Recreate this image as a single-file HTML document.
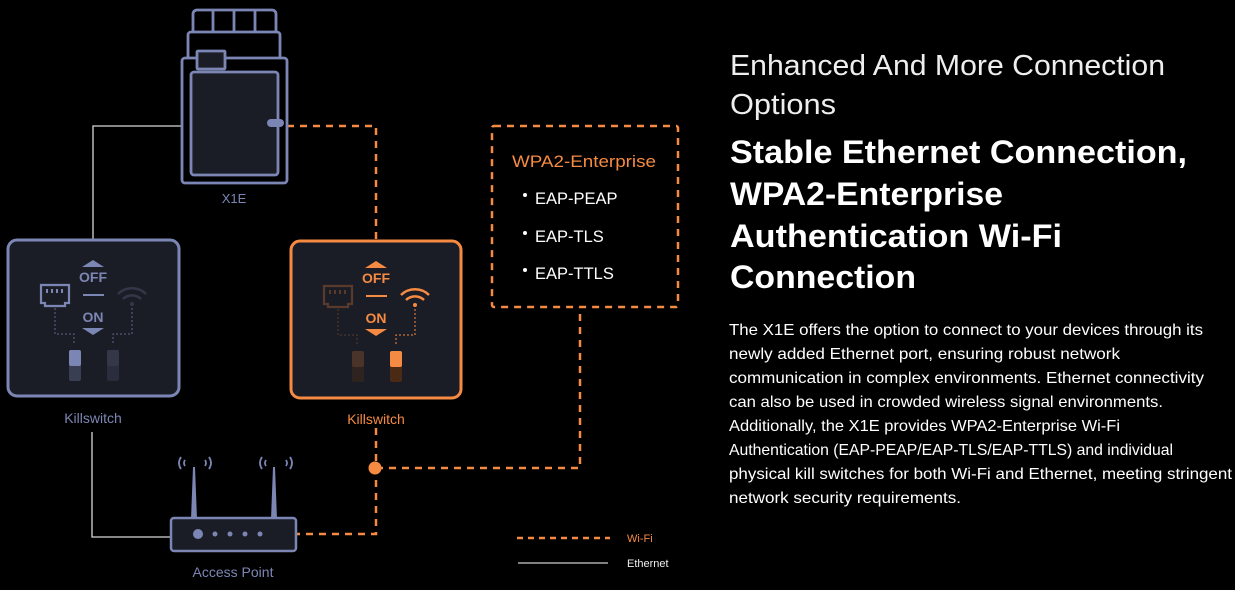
<!DOCTYPE html>
<html><head><meta charset="utf-8"><style>
html,body{margin:0;padding:0;background:#000;width:1235px;height:590px;overflow:hidden}
svg{display:block}
text{font-family:"Liberation Sans",sans-serif}
</style></head><body>
<svg width="1235" height="590" viewBox="0 0 1235 590" xmlns="http://www.w3.org/2000/svg">
<rect width="1235" height="590" fill="#000"/>
<g fill="none" stroke="#d8d8d8" stroke-width="1.3">
<polyline points="182,126 93,126 93,240"/>
<polyline points="92,432 92,537 171,537"/>
</g>
<g fill="none" stroke="#f58a42" stroke-width="2.5" stroke-dasharray="7,6">
<polyline points="287,126 376,126 376,241"/>
<polyline points="376,428 376,534 297,534"/>
<polyline points="376,468 580,468 580,307"/>
<rect x="492" y="126" width="186" height="181" rx="2"/>
</g>
<circle cx="375" cy="468" r="6.5" fill="#f58a42"/>
<g stroke="#7c86b4" stroke-width="2.8" fill="#1b1d26">
<rect x="193" y="10" width="83" height="24" rx="4" fill="#000"/>
<line x1="213" y1="10" x2="213" y2="32"/><line x1="234" y1="10" x2="234" y2="32"/><line x1="255" y1="10" x2="255" y2="32"/>
<rect x="188" y="32" width="92" height="28" rx="3" fill="#000"/>
<rect x="182" y="58" width="105" height="125" rx="3" fill="#000"/>
<rect x="197" y="51" width="28" height="18" rx="1" fill="#1b1d26"/>
<rect x="191" y="72" width="87" height="103" rx="3"/>
</g>
<rect x="267" y="119" width="17" height="8" rx="4" fill="#7c86b4"/>
<text x="234" y="203" font-size="13" fill="#7c86b4" text-anchor="middle">X1E</text>
<rect x="8" y="240" width="171" height="156" rx="9" fill="#1b1d26" stroke="#7c86b4" stroke-width="3"/>
<g>
<polygon points="82,267 93,260 104,267" fill="#7c86b4"/>
<text x="93" y="282" font-size="14" font-weight="bold" fill="#7c86b4" text-anchor="middle">OFF</text>
<line x1="83" y1="295" x2="104" y2="295" stroke="#7c86b4" stroke-width="2"/>
<text x="93" y="322" font-size="14" font-weight="bold" fill="#7c86b4" text-anchor="middle">ON</text>
<polygon points="82,328 93,335 104,328" fill="#7c86b4"/>
<path d="M41,285 h28 v18 h-4 v3 h-20 v-3 h-4 z" fill="none" stroke="#7c86b4" stroke-width="2.2"/>
<path d="M47,289 v4 M52,289 v4 M57,289 v4 M62,289 v4" stroke="#7c86b4" stroke-width="2"/>
<path d="M55,308 v26 h19 v10 M132,304 v30 h-19 v10" fill="none" stroke="#7c86b4" stroke-width="1" stroke-dasharray="2,2" opacity="0.7"/>
<rect x="69" y="350" width="12" height="31" rx="2" fill="#3a3e52"/>
<rect x="69" y="350" width="12" height="16" rx="2" fill="#7c86b4"/>
<rect x="107" y="350" width="12" height="31" rx="2" fill="#2a2d3b"/>
<rect x="107" y="350" width="12" height="16" rx="2" fill="#333748"/>
<path d="M118,294 a20,20 0 0 1 28,0 M123,299 a13,13 0 0 1 18,0" fill="none" stroke="#333748" stroke-width="2.5"/>
<circle cx="132" cy="304" r="2" fill="#333748"/>
</g>
<text x="93" y="423" font-size="14" fill="#7c86b4" text-anchor="middle">Killswitch</text>
<rect x="291" y="241" width="170" height="157" rx="9" fill="#1b1d26" stroke="#f58a42" stroke-width="3"/>
<g transform="translate(283,1)">
<polygon points="82,267 93,260 104,267" fill="#f58a42"/>
<text x="93" y="282" font-size="14" font-weight="bold" fill="#f58a42" text-anchor="middle">OFF</text>
<line x1="83" y1="295" x2="104" y2="295" stroke="#f58a42" stroke-width="2"/>
<text x="93" y="322" font-size="14" font-weight="bold" fill="#f58a42" text-anchor="middle">ON</text>
<polygon points="82,328 93,335 104,328" fill="#f58a42"/>
<path d="M41,285 h28 v18 h-4 v3 h-20 v-3 h-4 z" fill="none" stroke="#5a3a2a" stroke-width="2.2"/>
<path d="M47,289 v4 M52,289 v4 M57,289 v4 M62,289 v4" stroke="#5a3a2a" stroke-width="2"/>
<path d="M55,308 v26 h19 v10" fill="none" stroke="#5a3a2a" stroke-width="1" stroke-dasharray="2,2"/>
<path d="M132,304 v30 h-19 v10" fill="none" stroke="#f58a42" stroke-width="1" stroke-dasharray="2,2"/>
<rect x="69" y="350" width="12" height="31" rx="2" fill="#2e231e"/>
<rect x="69" y="350" width="12" height="16" rx="2" fill="#4a3328"/>
<rect x="107" y="350" width="12" height="31" rx="2" fill="#4a2a14"/>
<rect x="107" y="350" width="12" height="16" rx="2" fill="#f58a42"/>
<path d="M118,294 a20,20 0 0 1 28,0 M123,299 a13,13 0 0 1 18,0" fill="none" stroke="#f58a42" stroke-width="2.5"/>
<circle cx="132" cy="304" r="2" fill="#f58a42"/>
</g>
<text x="376" y="424" font-size="14" fill="#f58a42" text-anchor="middle">Killswitch</text>
<g fill="#7c86b4">
<polygon points="191,519 193,467 195,467 197,519"/>
<polygon points="271,519 273,467 275,467 277,519"/>
</g>
<g fill="none" stroke="#7c86b4" stroke-width="1.8">
<path d="M181,457 q-4,6 0,12 M185,460 q-2,3 0,6 M209,457 q4,6 0,12 M205,460 q2,3 0,6"/>
<path d="M262,457 q-4,6 0,12 M266,460 q-2,3 0,6 M290,457 q4,6 0,12 M286,460 q2,3 0,6"/>
</g>
<rect x="171" y="518" width="125" height="33" rx="3" fill="#1b1d26" stroke="#7c86b4" stroke-width="2.5"/>
<g fill="#7c86b4"><circle cx="198" cy="534" r="5"/><circle cx="215" cy="534" r="2.5"/><circle cx="230" cy="534" r="2.5"/><circle cx="245" cy="534" r="2.5"/><circle cx="260" cy="534" r="2.5"/></g>
<text x="233" y="577" font-size="14" fill="#7c86b4" text-anchor="middle">Access Point</text>
<text x="512" y="167" font-size="17" fill="#f58a42" textLength="144" lengthAdjust="spacingAndGlyphs">WPA2-Enterprise</text>
<g fill="#fff" font-size="16.5">
<circle cx="525" cy="195" r="2"/><text x="535" y="204">EAP-PEAP</text>
<circle cx="525" cy="233" r="2"/><text x="535" y="242">EAP-TLS</text>
<circle cx="525" cy="270" r="2"/><text x="535" y="279">EAP-TTLS</text>
</g>
<line x1="517" y1="538" x2="610" y2="538" stroke="#f58a42" stroke-width="2.5" stroke-dasharray="6,5"/>
<text x="627" y="542" font-size="11" fill="#f58a42">Wi-Fi</text>
<line x1="518" y1="563" x2="608" y2="563" stroke="#ccc" stroke-width="1.3"/>
<text x="627" y="567" font-size="11" fill="#eee">Ethernet</text>
<g fill="#fff">
<text x="730" y="75" font-size="29" textLength="435" lengthAdjust="spacingAndGlyphs" fill="#eee">Enhanced And More Connection</text>
<text x="730" y="114" font-size="29" textLength="106" lengthAdjust="spacingAndGlyphs" fill="#eee">Options</text>
<g font-size="32" font-weight="bold">
<text x="730" y="163" textLength="457" lengthAdjust="spacingAndGlyphs">Stable Ethernet Connection,</text>
<text x="730" y="205" textLength="273" lengthAdjust="spacingAndGlyphs">WPA2-Enterprise</text>
<text x="730" y="247" textLength="332" lengthAdjust="spacingAndGlyphs">Authentication Wi-Fi</text>
<text x="730" y="288" textLength="186" lengthAdjust="spacingAndGlyphs">Connection</text>
</g>
<g font-size="16">
<text x="729" y="335" textLength="474" lengthAdjust="spacingAndGlyphs">The X1E offers the option to connect to your devices through its</text>
<text x="729" y="359" textLength="391" lengthAdjust="spacingAndGlyphs">newly added Ethernet port, ensuring robust network</text>
<text x="729" y="383" textLength="475" lengthAdjust="spacingAndGlyphs">communication in complex environments. Ethernet connectivity</text>
<text x="729" y="407" textLength="434" lengthAdjust="spacingAndGlyphs">can also be used in crowded wireless signal environments.</text>
<text x="729" y="431" textLength="391" lengthAdjust="spacingAndGlyphs">Additionally, the X1E provides WPA2-Enterprise Wi-Fi</text>
<text x="729" y="455" textLength="444" lengthAdjust="spacingAndGlyphs">Authentication (EAP-PEAP/EAP-TLS/EAP-TTLS) and individual</text>
<text x="729" y="479" textLength="503" lengthAdjust="spacingAndGlyphs">physical kill switches for both Wi-Fi and Ethernet, meeting stringent</text>
<text x="729" y="503" textLength="232" lengthAdjust="spacingAndGlyphs">network security requirements.</text>
</g>
</g>
</svg>
</body></html>
